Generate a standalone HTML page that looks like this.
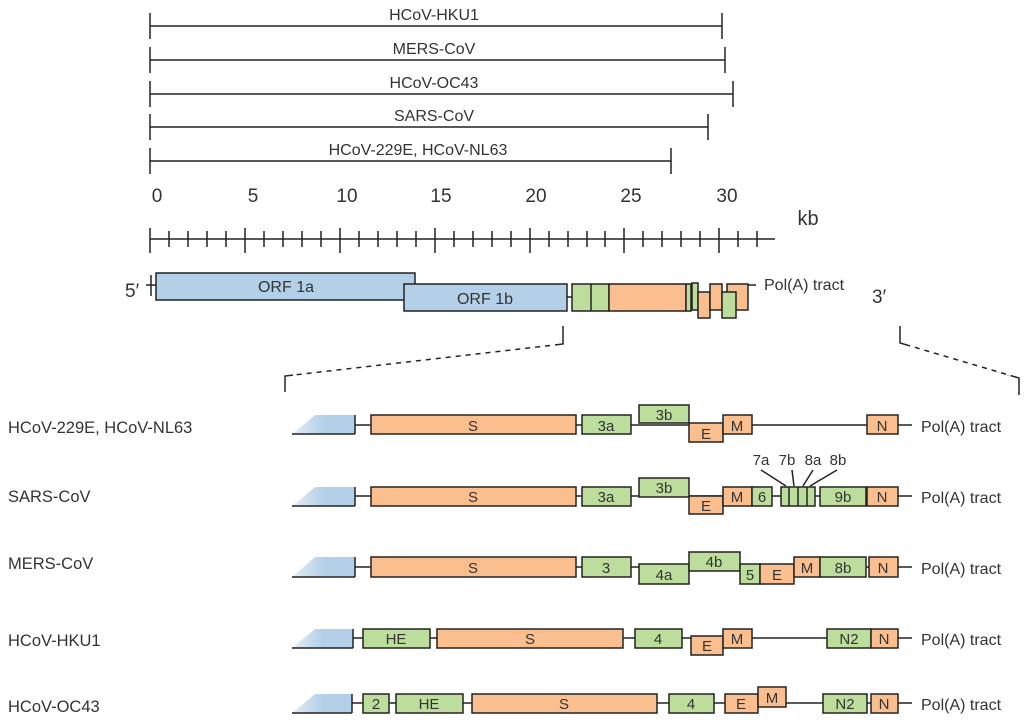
<!DOCTYPE html>
<html><head><meta charset="utf-8"><style>
html,body{margin:0;padding:0;background:#fff;}
svg{display:block;}
text{font-family:"Liberation Sans",sans-serif;fill:#333;}
</style></head><body>
<svg width="1024" height="722" viewBox="0 0 1024 722" xmlns="http://www.w3.org/2000/svg">
<defs>
<linearGradient id="wg" x1="0" y1="0" x2="1" y2="0"><stop offset="0" stop-color="#e6eef7"/><stop offset="0.5" stop-color="#b4d0e8"/><stop offset="1" stop-color="#b4d0e8"/></linearGradient>
</defs>
<g stroke="#222" stroke-width="1.5" fill="none">
<!-- top bars -->
<line x1="150" y1="26" x2="722" y2="26"/><line x1="150" y1="13" x2="150" y2="39"/><line x1="722" y1="13" x2="722" y2="39"/>
<line x1="150" y1="60" x2="725" y2="60"/><line x1="150" y1="47" x2="150" y2="73"/><line x1="725" y1="47" x2="725" y2="73"/>
<line x1="150" y1="94" x2="733" y2="94"/><line x1="150" y1="81" x2="150" y2="107"/><line x1="733" y1="81" x2="733" y2="107"/>
<line x1="150" y1="127" x2="708" y2="127"/><line x1="150" y1="114" x2="150" y2="140"/><line x1="708" y1="114" x2="708" y2="140"/>
<line x1="150" y1="161" x2="671" y2="161"/><line x1="150" y1="148" x2="150" y2="174"/><line x1="671" y1="148" x2="671" y2="174"/>
<!-- ruler -->
<line x1="150" y1="239" x2="775" y2="239"/>
<path d="M150 228V253M245 228V253M340 228V253M435 228V253M530 228V253M624 228V253M719 228V253"/>
<path d="M169 231V247M188 231V247M207 231V247M226 231V247M264 231V247M283 231V247M302 231V247M321 231V247M359 231V247M378 231V247M397 231V247M416 231V247M454 231V247M473 231V247M492 231V247M511 231V247M549 231V247M568 231V247M587 231V247M605 231V247M643 231V247M662 231V247M681 231V247M700 231V247M738 231V247M757 231V247"/>
<!-- genome -->
<line x1="146" y1="285" x2="156" y2="285"/><line x1="151" y1="275" x2="151" y2="296"/>
<line x1="748" y1="285" x2="756" y2="285"/>
<line x1="567" y1="297" x2="572" y2="297"/>
<path d="M563 326V344L285 376V392" stroke-dasharray="none"/>
<path d="M900 326V343L1019 378V395"/>
</g>
<g stroke="#fff" stroke-width="3"><path d="M555 345L293 375M910 346L1012 375" stroke-dasharray="5 5"/></g>
<g font-size="16" text-anchor="middle">
<text x="434" y="20">HCoV-HKU1</text>
<text x="434" y="54">MERS-CoV</text>
<text x="434" y="88">HCoV-OC43</text>
<text x="434" y="121">SARS-CoV</text>
<text x="418" y="155">HCoV-229E, HCoV-NL63</text>
<g font-size="19"><text x="157" y="202">0</text><text x="253" y="202">5</text><text x="347" y="202">10</text><text x="441" y="202">15</text><text x="536" y="202">20</text><text x="631" y="202">25</text><text x="727" y="202">30</text></g>
<text x="808" y="225" font-size="20">kb</text>
</g>
<g stroke="#222" stroke-width="1.5">
<rect x="156" y="273" width="259" height="27" fill="#b4d0e8"/>
<rect x="404" y="284" width="163" height="27" fill="#b4d0e8"/>
<rect x="572" y="284" width="37" height="27" fill="#bddd9c"/><line x1="591" y1="284" x2="591" y2="311"/>
<rect x="609" y="284" width="77" height="27" fill="#fbbf8f"/>
<rect x="686" y="284" width="5" height="27" fill="#bddd9c"/>
<rect x="692" y="283" width="6" height="27" fill="#bddd9c"/>
<rect x="698" y="292" width="12" height="26" fill="#fbbf8f"/>
<rect x="710" y="284" width="12" height="26" fill="#fbbf8f"/>
<rect x="727" y="284" width="21" height="26" fill="#fbbf8f"/>
<rect x="722" y="292" width="14" height="26" fill="#bddd9c"/>
</g>
<text x="286" y="292" font-size="16" text-anchor="middle">ORF 1a</text>
<text x="485" y="304" font-size="16" text-anchor="middle">ORF 1b</text>
<text x="125" y="297" font-size="19">5′</text>
<text x="764" y="290" font-size="16">Pol(A) tract</text>
<text x="872" y="303" font-size="19">3′</text>

<!-- left labels -->
<g font-size="16.5"><text x="8" y="433">HCoV-229E, HCoV-NL63</text><text x="8" y="502">SARS-CoV</text><text x="8" y="569">MERS-CoV</text><text x="8" y="646">HCoV-HKU1</text><text x="8" y="712">HCoV-OC43</text></g>

<!-- backbone lines -->
<g stroke="#222" stroke-width="1.5">
<line x1="355" y1="425" x2="912" y2="425"/>
<line x1="355" y1="496" x2="912" y2="496"/>
<line x1="355" y1="567" x2="912" y2="567"/>
<line x1="353" y1="638" x2="912" y2="638"/>
<line x1="352" y1="703" x2="912" y2="703"/>
<line x1="761" y1="470" x2="786" y2="486"/><line x1="792" y1="470" x2="794" y2="486"/><line x1="813" y1="470" x2="803" y2="486"/><line x1="837" y1="470" x2="810" y2="486"/>
</g>
<!-- wedges -->
<g fill="url(#wg)" stroke="none">
<polygon points="292,434 315,415 355,415 355,434"/>
<polygon points="292,506 315,487 355,487 355,506"/>
<polygon points="292,577 315,557 355,557 355,577"/>
<polygon points="292,648 315,629 353,629 353,648"/>
<polygon points="292,713 315,694 352,694 352,713"/>
</g>
<g stroke="#222" stroke-width="1.5"><line x1="292" y1="434" x2="355" y2="434"/><line x1="355" y1="415" x2="355" y2="434"/>
<line x1="292" y1="506" x2="355" y2="506"/><line x1="355" y1="487" x2="355" y2="506"/>
<line x1="292" y1="577" x2="355" y2="577"/><line x1="355" y1="557" x2="355" y2="577"/>
<line x1="292" y1="648" x2="353" y2="648"/><line x1="353" y1="629" x2="353" y2="648"/>
<line x1="292" y1="713" x2="352" y2="713"/><line x1="352" y1="694" x2="352" y2="713"/></g>

<g stroke="#222" stroke-width="1.5">
<!-- row1 -->
<rect x="371" y="415" width="205" height="19" fill="#fbbf8f"/>
<rect x="582" y="415" width="49" height="19" fill="#bddd9c"/>
<rect x="639" y="405" width="50" height="18" fill="#bddd9c"/>
<rect x="689" y="423" width="34" height="19" fill="#fbbf8f"/>
<rect x="723" y="415" width="29" height="19" fill="#fbbf8f"/>
<rect x="867" y="415" width="31" height="19" fill="#fbbf8f"/>
<!-- row2 -->
<rect x="371" y="487" width="205" height="19" fill="#fbbf8f"/>
<rect x="582" y="487" width="49" height="19" fill="#bddd9c"/>
<rect x="639" y="478" width="50" height="19" fill="#bddd9c"/>
<rect x="689" y="496" width="34" height="18" fill="#fbbf8f"/>
<rect x="723" y="487" width="29" height="19" fill="#fbbf8f"/>
<rect x="752" y="487" width="20" height="19" fill="#bddd9c"/>
<rect x="781" y="487" width="34" height="19" fill="#bddd9c"/>
<line x1="789" y1="487" x2="789" y2="506"/><line x1="798" y1="487" x2="798" y2="506"/><line x1="807" y1="487" x2="807" y2="506"/>
<rect x="820" y="487" width="46" height="19" fill="#bddd9c"/>
<rect x="867" y="487" width="31" height="19" fill="#fbbf8f"/>
<!-- row3 -->
<rect x="371" y="557" width="205" height="20" fill="#fbbf8f"/>
<rect x="582" y="557" width="49" height="20" fill="#bddd9c"/>
<rect x="639" y="564" width="50" height="20" fill="#bddd9c"/>
<rect x="689" y="552" width="51" height="19" fill="#bddd9c"/>
<rect x="740" y="564" width="20" height="20" fill="#bddd9c"/>
<rect x="760" y="564" width="34" height="20" fill="#fbbf8f"/>
<rect x="794" y="557" width="26" height="20" fill="#fbbf8f"/>
<rect x="820" y="557" width="46" height="20" fill="#bddd9c"/>
<rect x="869" y="557" width="29" height="20" fill="#fbbf8f"/>
<!-- row4 -->
<rect x="363" y="629" width="67" height="19" fill="#bddd9c"/>
<rect x="437" y="629" width="186" height="19" fill="#fbbf8f"/>
<rect x="635" y="629" width="47" height="19" fill="#bddd9c"/>
<rect x="691" y="636" width="32" height="19" fill="#fbbf8f"/>
<rect x="723" y="629" width="29" height="19" fill="#fbbf8f"/>
<rect x="827" y="629" width="44" height="19" fill="#bddd9c"/>
<rect x="871" y="629" width="27" height="19" fill="#fbbf8f"/>
<!-- row5 -->
<rect x="363" y="694" width="26" height="19" fill="#bddd9c"/>
<rect x="396" y="694" width="67" height="19" fill="#bddd9c"/>
<rect x="472" y="694" width="185" height="19" fill="#fbbf8f"/>
<rect x="669" y="694" width="45" height="19" fill="#bddd9c"/>
<rect x="725" y="694" width="33" height="19" fill="#fbbf8f"/>
<rect x="758" y="687" width="28" height="20" fill="#fbbf8f"/>
<rect x="823" y="694" width="44" height="19" fill="#bddd9c"/>
<rect x="871" y="694" width="27" height="19" fill="#fbbf8f"/>
</g>
<g font-size="15" text-anchor="middle" fill="#444">
<text x="473" y="431">S</text><text x="606" y="431">3a</text><text x="664" y="420">3b</text><text x="706" y="439">E</text><text x="737" y="431">M</text><text x="882" y="431">N</text>
<text x="473" y="502">S</text><text x="606" y="502">3a</text><text x="664" y="493">3b</text><text x="706" y="511">E</text><text x="737" y="502">M</text><text x="762" y="502">6</text><text x="843" y="502">9b</text><text x="882" y="502">N</text>
<g font-size="15"><text x="761" y="465">7a</text><text x="787" y="465">7b</text><text x="813" y="465">8a</text><text x="838" y="465">8b</text></g>
<text x="473" y="573">S</text><text x="606" y="573">3</text><text x="664" y="580">4a</text><text x="714" y="567">4b</text><text x="750" y="580">5</text><text x="777" y="580">E</text><text x="807" y="573">M</text><text x="843" y="573">8b</text><text x="883" y="573">N</text>
<text x="396" y="644">HE</text><text x="530" y="644">S</text><text x="658" y="644">4</text><text x="707" y="651">E</text><text x="737" y="644">M</text><text x="849" y="644">N2</text><text x="884" y="644">N</text>
<text x="376" y="709">2</text><text x="429" y="709">HE</text><text x="564" y="709">S</text><text x="691" y="709">4</text><text x="741" y="709">E</text><text x="772" y="703">M</text><text x="845" y="709">N2</text><text x="884" y="709">N</text>
</g>
<g font-size="16"><text x="921" y="432">Pol(A) tract</text><text x="921" y="503">Pol(A) tract</text><text x="921" y="574">Pol(A) tract</text><text x="921" y="645">Pol(A) tract</text><text x="921" y="710">Pol(A) tract</text></g>
</svg>
</body></html>
